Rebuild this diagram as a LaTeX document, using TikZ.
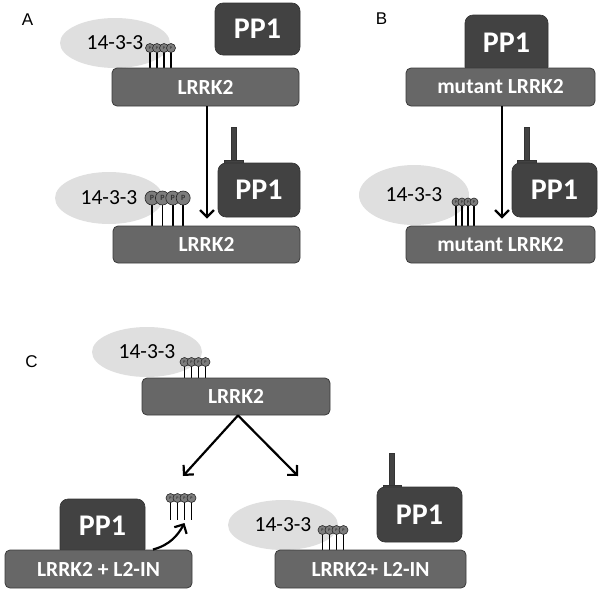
\documentclass[tikz,border=0pt]{standalone}
\usepackage{fontspec}
\setmainfont{Carlito}
\newfontfamily\labelfont{Liberation Sans}
\usetikzlibrary{arrows.meta,shapes.geometric}
\definecolor{boxgray}{HTML}{676767}
\definecolor{boxedge}{HTML}{3A3A3A}
\definecolor{ppgray}{HTML}{424242}
\definecolor{elgray}{HTML}{DFDFDF}
\definecolor{pgray}{HTML}{7C7C7C}
\newcommand{\pgroup}[7]{% name, x0, dx, y, ybottom, r, fontsize
  \foreach \i in {0,...,3}{\draw[stick] ({#2+\i*#3},#4) -- ({#2+\i*#3},#5);}
  \foreach \i in {0,...,3}{\node[pcirc,minimum size={2*#6},font=\bfseries\fontsize{#7}{#7}\selectfont] (#1\i) at ({#2+\i*#3},#4) {P};}
}
\begin{document}
\begin{tikzpicture}[x=1pt,y=-1pt,
  lrrk/.style={draw=boxedge,fill=boxgray,rounded corners=5pt,text=white,
    font=\bfseries\fontsize{21.5}{22}\selectfont,inner sep=0pt,line width=0.8pt,
    minimum height=37pt},
  ppbox/.style={draw=black!80,fill=ppgray,rounded corners=8pt,text=white,
    font=\bfseries\fontsize{30}{30}\selectfont,inner sep=0pt,line width=0.6pt},
  ell/.style={ellipse,fill=elgray,inner sep=0pt,font=\fontsize{21.5}{22}\selectfont,
    minimum width=110pt,minimum height=50pt},
  stick/.style={draw=black,line width=1.8pt},
  pcirc/.style={circle,draw=black!85,fill=pgray,inner sep=0pt,line width=0.6pt,text=black!80},
  arr/.style={draw=black,line width=2.2pt,-{Straight Barb[length=7pt,width=14pt,line width=2.2pt]}},
  panel/.style={font=\labelfont\fontsize{17}{18}\selectfont,inner sep=0pt},
  antenna/.style={fill=ppgray,draw=black!80,line width=0.5pt}
]
\useasboundingbox (0,0) rectangle (600,589);

% ---------------- Panel A ----------------
\node[panel] (lA) at (27.5,20) {A};
\node[ell] (eA1) at (115,43) {14-3-3};
\node[ppbox,minimum width=85pt,minimum height=52pt] (ppA1) at (257.5,29) {PP1};
\pgroup{pA}{150}{7}{48}{69}{4.5}{4}
\node[lrrk,minimum width=187pt,minimum height=38pt] (a1) at (205.5,87) {LRRK2};

\node[ell,minimum width=108pt,minimum height=52pt] (eA2) at (109,198) {14-3-3};
\fill[antenna] (231.5,127) rectangle (236.5,162);
\fill[antenna] (224,160) rectangle (243,166);
\node[ppbox,minimum width=82pt,minimum height=54pt] (ppA2) at (259,190) {PP1};
\pgroup{qA}{152}{10.4}{198}{227}{7}{8}
\node[lrrk,minimum width=187pt] (a2) at (206.5,244.5) {LRRK2};
\draw[arr] (a1.south -| 207,0) -- ([yshift=7pt]a2.north -| 207,0);

% ---------------- Panel B ----------------
\node[panel] (lB) at (381.5,19) {B};
\node[ppbox,minimum width=83pt,minimum height=60pt] (ppB1) at (506.5,45) {\raisebox{5pt}{PP1}};
\node[lrrk,minimum width=189pt,minimum height=38pt] (b1) at (500.5,87) {mutant LRRK2};

\node[ell,minimum width=110pt,minimum height=60pt] (eB2) at (414,195) {\raisebox{-4pt}{14-3-3}};
\fill[antenna] (524.5,127) rectangle (529.5,162);
\fill[antenna] (517,160) rectangle (536,166);
\node[ppbox,minimum width=85pt,minimum height=54pt] (ppB2) at (554.5,190) {PP1};
\pgroup{pB}{456}{6}{202}{227}{4}{4}
\node[lrrk,minimum width=189pt] (b2) at (500.5,244.5) {mutant LRRK2};
\draw[arr] (b1.south -| 502,0) -- ([yshift=7pt]b2.north -| 502,0);

% ---------------- Panel C ----------------
\node[panel] (lC) at (31.5,362) {C};
\node[ell] (eC1) at (147,352) {14-3-3};
\pgroup{pC}{184.5}{7}{362}{379}{4.5}{4}
\node[lrrk,minimum width=188pt] (c1) at (236,396.5) {LRRK2};
\coordinate (cL) at (183,476);
\coordinate (cR) at (298,476);
\draw[arr] (c1.south -| 238,0) -- (cL);
\draw[arr] (c1.south -| 238,0) -- (cR);

% left result
\node[ppbox,minimum width=85pt,minimum height=58pt] (ppC1) at (102.5,528) {\raisebox{4pt}{PP1}};
\node[lrrk,minimum width=187pt,minimum height=38pt] (c2) at (98.5,569) {LRRK2 + L2-IN};
\pgroup{fC}{170.5}{7}{498}{520}{4.5}{4}
\coordinate (cvS) at (153,549.5);
\draw[arr] (cvS) .. controls (170,545) and (178,535) .. (fC2.south |- 0,523);

% right result
\node[ell] (eC3) at (283,525) {14-3-3};
\fill[antenna] (389.5,453) rectangle (394.5,487);
\fill[antenna] (383,485) rectangle (401,490);
\node[ppbox,minimum width=85pt,minimum height=55pt] (ppC3) at (419.5,514.5) {PP1};
\pgroup{rC}{322.5}{7}{530}{551}{4.5}{4}
\node[lrrk,minimum width=191pt,minimum height=38pt] (c3) at (370.5,569) {LRRK2+ L2-IN};
\end{tikzpicture}
\end{document}
